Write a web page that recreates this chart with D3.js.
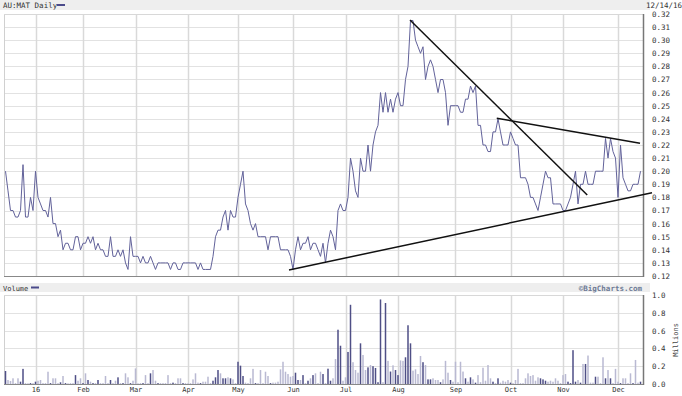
<!DOCTYPE html>
<html><head><meta charset="utf-8">
<script src="https://cdn.jsdelivr.net/npm/d3@7"></script>
<style>
body{margin:0;background:#fff;}
svg{display:block;}
text{font-family:"DejaVu Sans Mono",monospace;}
</style>
</head><body>
<svg id="c" width="682" height="396"></svg>
<script>
// ---- data ----
const title = "AU:MAT Daily";
const dateLabel = "12/14/16";
const volTitle = "Volume";
const credit = "\u00A9BigCharts.com";
const volUnit = "Millions";

const prices = [
.20,.185,.17,.17,.165,.165,.17,.205,.165,.165,
.18,.17,.20,.18,.175,.17,.17,.165,.18,.16,
.16,.15,.155,.14,.145,.145,.14,.14,.15,.15,
.14,.145,.145,.15,.145,.15,.14,.145,.14,.14,
.135,.135,.15,.135,.135,.14,.135,.14,.13,.125,
.15,.135,.135,.135,.13,.135,.13,.13,.135,.13,
.125,.13,.13,.13,.13,.13,.125,.13,.13,.125,
.125,.13,.13,.13,.13,.13,.13,.125,.13,.125,
.125,.125,.125,.135,.15,.155,.155,.165,.17,.155,
.17,.165,.165,.18,.19,.20,.175,.17,.16,.155,
.16,.15,.15,.15,.15,.14,.15,.15,.15,.15,
.14,.14,.14,.14,.135,.125,.14,.15,.14,.145,
.145,.15,.14,.145,.145,.14,.135,.145,.13,.145,
.155,.15,.14,.17,.175,.17,.17,.18,.21,.20,
.185,.18,.21,.20,.20,.22,.20,.22,.23,.235,
.26,.245,.26,.245,.255,.245,.255,.26,.25,.25,
.27,.28,.315,.315,.30,.295,.29,.295,.27,.28,
.285,.28,.27,.26,.27,.27,.26,.235,.25,.25,
.25,.25,.245,.245,.255,.255,.265,.26,.265,.235,
.235,.22,.22,.215,.215,.23,.23,.24,.23,.22,
.22,.22,.23,.225,.22,.22,.195,.195,.195,.19,
.18,.18,.175,.17,.18,.19,.20,.195,.195,.175,
.175,.175,.175,.17,.17,.175,.18,.19,.20,.175,
.19,.19,.20,.19,.19,.19,.20,.20,.20,.20,
.225,.21,.225,.215,.21,.18,.22,.195,.19,.185,
.185,.19,.19,.19,.20
];

const volumes = [
.146,.045,.034,.064,.01,.064,.026,.17,.01,.008,
.01,.01,.026,.037,.045,.01,.01,.138,.01,.064,
.064,.01,.019,.09,.01,.008,.01,.01,.10,.037,
.064,.01,.12,.045,.026,.01,.01,.045,.01,.01,
.09,.01,.045,.01,.037,.075,.01,.01,.12,.075,
.01,.037,.175,.008,.01,.01,.10,.01,.12,.157,
.037,.01,.01,.01,.01,.10,.01,.015,.01,.064,
.064,.01,.01,.008,.01,.052,.12,.015,.01,.026,
.026,.082,.01,.037,.075,.157,.12,.064,.064,.075,
.064,.052,.01,.25,.206,.09,.015,.01,.064,.17,
.01,.01,.157,.01,.138,.09,.01,.015,.015,.026,
.165,.25,.138,.112,.082,.09,.127,.045,.045,.10,
.01,.037,.064,.10,.12,.01,.138,.112,.01,.172,
.037,.064,.28,.61,.43,.037,.075,.36,.89,.245,
.157,.127,.457,.326,.157,.187,.213,.20,.18,.02,
.95,.02,.91,.26,.14,.21,.157,.10,.265,.26,
.30,.66,.457,.15,.165,.112,.315,.245,.213,.052,
.052,.064,.045,.045,.02,.052,.26,.127,.045,.026,
.25,.02,.25,.14,.064,.026,.075,.052,.015,.10,
.02,.183,.037,.213,.064,.026,.01,.064,.015,.037,
.026,.045,.015,.01,.045,.17,.01,.01,.064,.12,
.09,.10,.037,.075,.064,.052,.037,.026,.037,.026,
.064,.037,.01,.10,.112,.026,.01,.38,.026,.045,
.015,.225,.225,.32,.015,.015,.082,.082,.01,.30,
.064,.157,.064,.01,.17,.026,.01,.064,.064,.01,
.12,.01,.27,.015,.026
];

const monthTickIdx = [12,31,52,73,93,115,136,157,180,202,223,245];
const monthLabels = ["16","Feb","Mar","Apr","May","Jun","Jul","Aug","Sep","Oct","Nov","Dec"];
const priceTicks = [0.12,0.13,0.14,0.15,0.16,0.17,0.18,0.19,0.20,0.21,0.22,0.23,0.24,0.25,0.26,0.27,0.28,0.29,0.30,0.31,0.32];
const volTicks = [0,0.2,0.4,0.6,0.8,1.0];
// hand-drawn trend lines: [startIndex, startPrice, endIndex, endPrice]
const trendLines = [
  [113.4, 0.1246, 258.6, 0.1836],
  [161.8, 0.3154, 232.7, 0.1818],
  [196.5, 0.2404, 253.8, 0.2213]
];

// ---- layout ----
const L = 4, R = 643;
const pTop = 14, pBot = 276;
const vTop = 295, vBot = 384;

const svg = d3.select("#c");
const x = d3.scaleLinear().domain([0, prices.length - 1]).range([5.5, 640.5]);
const yP = d3.scaleLinear().domain([0.12, 0.32]).range([pBot, pTop]);
const yV = d3.scaleLinear().domain([0, 1]).range([vBot, vTop]);

// header bands
svg.append("rect").attr("x",0).attr("y",0).attr("width",650).attr("height",10).attr("fill","#eeeeee");
svg.append("rect").attr("x",0).attr("y",283).attr("width",650).attr("height",9).attr("fill","#eeeeee");

svg.append("text").attr("x",3).attr("y",8).attr("font-size",7.5).attr("fill","#333").text(title);
svg.append("line").attr("x1",57).attr("x2",65).attr("y1",5).attr("y2",5).attr("stroke","#4a4a8a").attr("stroke-width",2);
svg.append("text").attr("x",682).attr("y",8).attr("text-anchor","end").attr("font-size",7.5).attr("fill","#333").text(dateLabel);

svg.append("text").attr("x",3).attr("y",290.5).attr("font-size",7).attr("fill","#333").text(volTitle);
svg.append("line").attr("x1",31).attr("x2",39).attr("y1",287.5).attr("y2",287.5).attr("stroke","#4a4a8a").attr("stroke-width",2);
svg.append("text").attr("x",642).attr("y",290.5).attr("text-anchor","end").attr("font-size",7.5)
  .attr("font-family","'DejaVu Sans',sans-serif").attr("font-weight","bold").attr("fill","#6d7a95").text(credit);

// panels
function panel(top, bot, yScale, ticks, fmt) {
  const g = svg.append("g");
  g.append("rect").attr("x",L).attr("y",top).attr("width",R-L).attr("height",bot-top).attr("fill","#fff");
  g.selectAll(".hg").data(ticks).join("line")
    .attr("x1",L).attr("x2",R).attr("y1",d=>Math.round(yScale(d))+0.5).attr("y2",d=>Math.round(yScale(d))+0.5)
    .attr("stroke","#e2e2e2").attr("stroke-width",1);
  g.selectAll(".vg").data(monthTickIdx).join("line")
    .attr("x1",d=>Math.round(x(d))+0.5).attr("x2",d=>Math.round(x(d))+0.5).attr("y1",top).attr("y2",bot)
    .attr("stroke","#d9d9d9").attr("stroke-width",1.5);
  // borders
  g.append("line").attr("x1",L+0.5).attr("x2",L+0.5).attr("y1",top).attr("y2",bot).attr("stroke","#d0d0d0");
  g.append("line").attr("x1",L).attr("x2",R).attr("y1",top+0.5).attr("y2",top+0.5).attr("stroke","#d8d8d8");
  g.append("line").attr("x1",L).attr("x2",R).attr("y1",bot+0.5).attr("y2",bot+0.5).attr("stroke","#888");
  g.append("line").attr("x1",R+0.5).attr("x2",R+0.5).attr("y1",top).attr("y2",bot+1).attr("stroke","#777").attr("stroke-width",1.5);
  // axis labels
  const ax = d3.axisRight(yScale).tickValues(ticks).tickSize(0).tickPadding(0).tickFormat(fmt);
  const a = svg.append("g").attr("transform",`translate(652,0)`).call(ax);
  a.select(".domain").remove();
  a.selectAll("text").attr("font-family","'DejaVu Sans Mono',monospace").attr("font-size",7.5).attr("fill","#333").attr("dy","0.32em");
  return g;
}

panel(pTop, pBot, yP, priceTicks, d3.format(".2f"));
panel(vTop, vBot, yV, volTicks, d3.format(".1f"));

// volume bars
svg.append("g").selectAll("rect").data(volumes).join("rect")
  .attr("x",(d,i)=>x(i)-0.75).attr("width",1.5)
  .attr("y",d=>yV(d)).attr("height",d=>vBot-yV(d))
  .attr("fill",(d,i)=> (i>0 && prices[i] > prices[i-1]) || i===0 ? "#4f4f86" : "#b9b9d2");

// price line
svg.append("path").datum(prices)
  .attr("d", d3.line().x((d,i)=>x(i)).y(d=>yP(d)))
  .attr("fill","none").attr("stroke","#62629a").attr("stroke-width",1);

// trend lines
svg.append("g").selectAll("line").data(trendLines).join("line")
  .attr("x1",d=>x(d[0])).attr("y1",d=>yP(d[1])).attr("x2",d=>x(d[2])).attr("y2",d=>yP(d[3]))
  .attr("stroke","#111").attr("stroke-width",1.5);

// x axis labels
const xa = d3.axisBottom(x).tickValues(monthTickIdx).tickSize(0).tickPadding(0).tickFormat((d,i)=>monthLabels[i]);
const xg = svg.append("g").attr("transform",`translate(0,387)`).call(xa);
xg.select(".domain").remove();
xg.selectAll("text").attr("font-family","'DejaVu Sans Mono',monospace").attr("font-size",7).attr("fill","#333");

// Millions
svg.append("text").attr("transform","translate(678,340) rotate(-90)").attr("text-anchor","middle")
  .attr("font-size",7).attr("fill","#444").text(volUnit);
</script>
</body></html>
